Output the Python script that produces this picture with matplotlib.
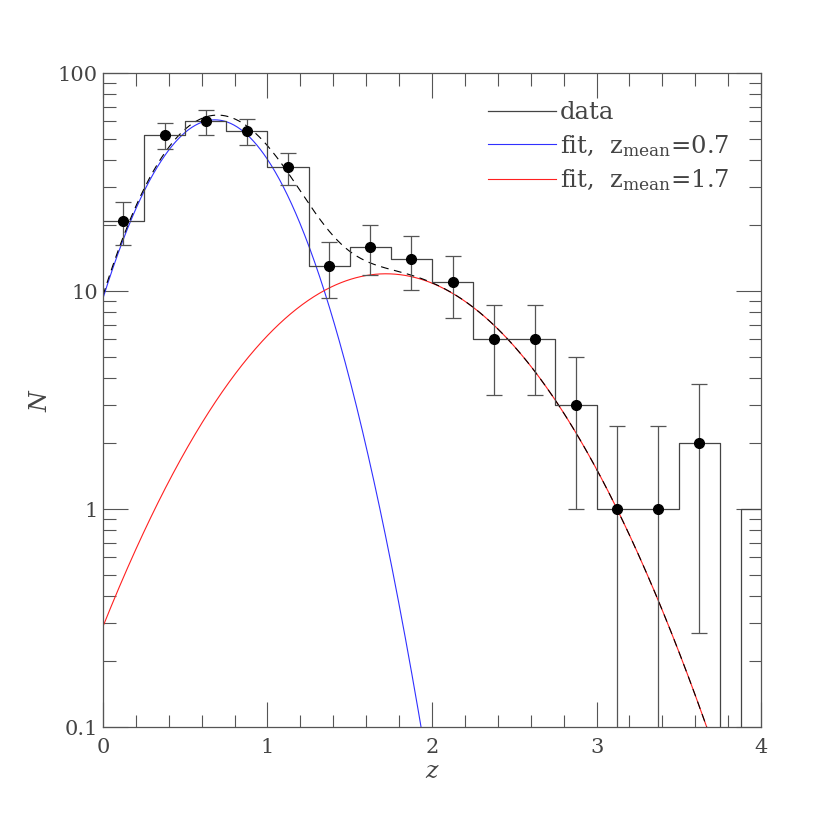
import numpy as np
import matplotlib
matplotlib.use("Agg")
import matplotlib.pyplot as plt
from matplotlib.ticker import MultipleLocator, LogLocator, FixedLocator, NullFormatter

# histogram of redshifts (bin edges and counts)
edges = [0, 0.25, 0.5, 0.75, 1.0, 1.25, 1.5, 1.75, 2.0, 2.25, 2.5, 2.75,
         3.0, 3.25, 3.5, 3.75, 3.875, 4.0]
counts = [21, 52, 60, 54, 37, 13, 16, 14, 11, 6, 6, 3, 1, 1, 2, 0, 1]

# points with errors at bin centres
z_pts = [0.125, 0.375, 0.625, 0.875, 1.125, 1.375, 1.625, 1.875, 2.125,
         2.375, 2.625, 2.875, 3.125, 3.375, 3.625]
n_pts = [21, 52, 60, 54, 37, 13, 16, 14, 11, 6, 6, 3, 1, 1, 2]
n_err = [4.7, 7.3, 7.8, 7.4, 6.2, 3.7, 4.1, 3.9, 3.5, 2.65, 2.65, 2.0, 1.41, 1.41, 1.73]

# fitted gaussian components: (centre, peak, sigma)
fit_lo = (0.68, 61.0, 0.35)
fit_hi = (1.72, 12.0, 0.63)

def gauss(z, p):
    mu, amp, sig = p
    return amp * np.exp(-(z - mu) ** 2 / (2 * sig ** 2))

plt.rcParams['font.family'] = ['DejaVu Serif']
plt.rcParams['mathtext.fontset'] = 'dejavuserif'
txtc = '#444444'

fig = plt.figure(figsize=(8.3, 8.3), dpi=100)
ax = fig.add_axes([0.124, 0.124, 0.793, 0.788])
ax.set_yscale('log', nonpositive='clip')

z = np.linspace(0, 4, 800)
ax.plot(z, gauss(z, fit_lo), color='#3030ff', lw=0.8, label=r'fit,  z$_{\rm mean}$=0.7')
ax.plot(z, gauss(z, fit_hi), color='#ff2020', lw=0.8, label=r'fit,  z$_{\rm mean}$=1.7')
ax.plot(z, gauss(z, fit_lo) + gauss(z, fit_hi), color='black', lw=0.8, ls=(0, (7, 5)))

ax.step(edges, counts + [counts[-1]], where='post', color='#444444', lw=0.9, label='data')
ax.errorbar(z_pts, n_pts, yerr=n_err, fmt='o', color='black', ms=7,
            ecolor='#555555', elinewidth=0.9, capsize=6, capthick=0.9)

ax.set_xlim(0, 4)
ax.set_ylim(0.1, 100)
ax.xaxis.set_major_locator(MultipleLocator(1))
ax.xaxis.set_minor_locator(MultipleLocator(0.2))
ax.yaxis.set_major_locator(FixedLocator([0.1, 1, 10, 100]))
ax.yaxis.set_minor_locator(LogLocator(base=10, subs=np.arange(2, 10)))
ax.yaxis.set_minor_formatter(NullFormatter())
ax.set_yticklabels(['0.1', '1', '10', '100'])
ax.tick_params(which='both', direction='in', top=True, right=True, colors='#555555',
               labelcolor=txtc, labelsize=15)
ax.tick_params(which='major', length=18, width=0.8)
ax.tick_params(which='minor', length=9, width=0.8)
ax.tick_params(axis='x', pad=8)
for s in ax.spines.values():
    s.set_color('#555555')
    s.set_linewidth(0.9)

ax.set_xlabel('$z$', fontsize=17, color=txtc, labelpad=2)
ax.set_ylabel('$N$', fontsize=17, color=txtc, labelpad=4)

h, l = ax.get_legend_handles_labels()
order = [2, 0, 1]
leg = ax.legend([h[i] for i in order], [l[i] for i in order], loc='upper right',
                bbox_to_anchor=(0.985, 0.99), frameon=False, fontsize=17.5,
                handlelength=2.8, handletextpad=0.15, labelspacing=0.35, labelcolor=txtc)

fig.savefig('out.png', dpi=100)
